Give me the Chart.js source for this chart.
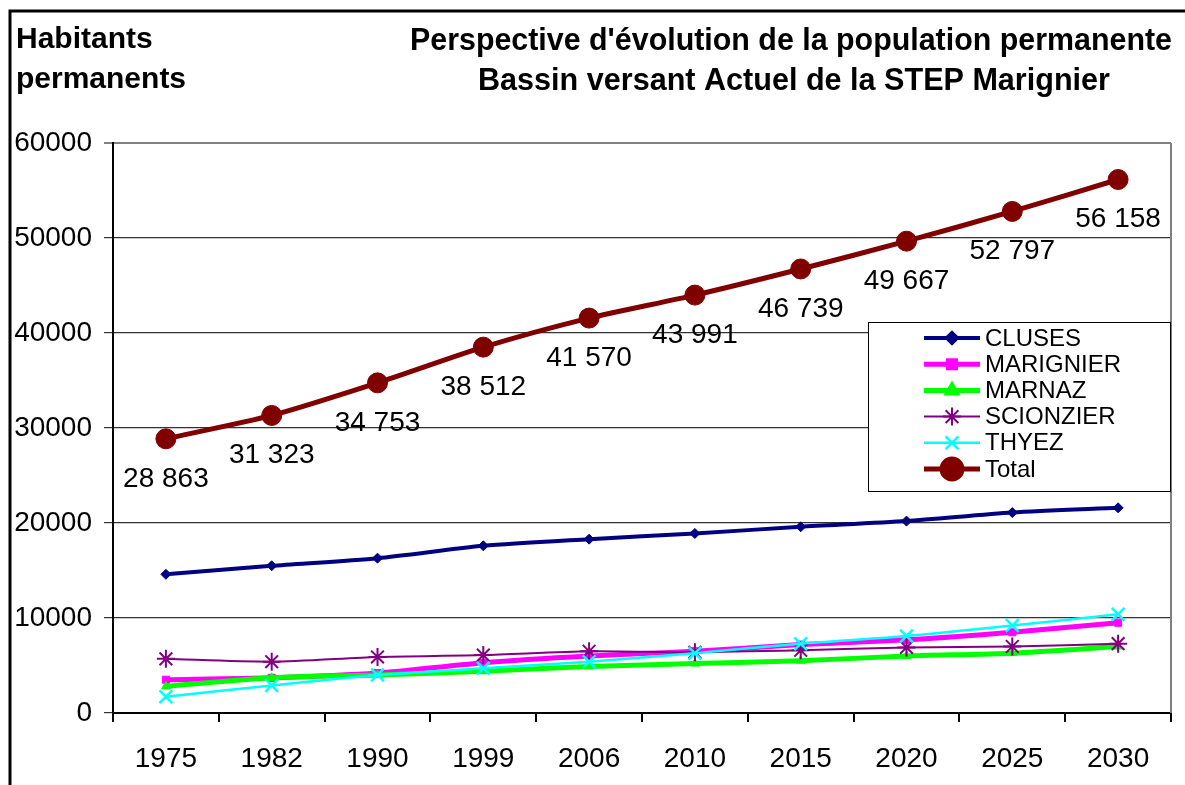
<!DOCTYPE html>
<html>
<head>
<meta charset="utf-8">
<script src="https://cdn.jsdelivr.net/npm/chart.js@4.4.0/dist/chart.umd.min.js"></script>
<style>
  html, body { margin: 0; padding: 0; background: #fff; }
  #wrap { width: 1185px; height: 785px; position: relative; }
</style>
</head>
<body>
<div id="wrap"><canvas id="popChart" width="1185" height="785"></canvas></div>
<script>
// Data
const years = ['1975', '1982', '1990', '1999', '2006', '2010', '2015', '2020', '2025', '2030'];
const cluses = [14600, 15500, 16300, 17600, 18300, 18900, 19600, 20200, 21100, 21600];
const marignier = [3500, 3700, 4200, 5300, 6000, 6500, 7200, 7700, 8500, 9500];
const marnaz = [2800, 3700, 4000, 4400, 4900, 5200, 5500, 6000, 6300, 7000];
const scionzier = [5700, 5400, 5900, 6100, 6500, 6400, 6600, 6900, 7000, 7300];
const thyez = [1700, 2900, 4000, 4700, 5400, 6300, 7300, 8100, 9200, 10400];
const total = [28863, 31323, 34753, 38512, 41570, 43991, 46739, 49667, 52797, 56158];
const yTicks = [0, 10000, 20000, 30000, 40000, 50000, 60000];

const FONT = "'Liberation Sans', Arial, sans-serif";

// thousand separator with a space, like the labels on the picture
function frNumber(v) {
    return String(v).replace(/\B(?=(\d{3})+(?!\d))/g, ' ');
}

// Frame, titles, plot border and the "Total" value labels
const decorPlugin = {
    id: 'decor',
    beforeDatasetsDraw(chart) {
        const { ctx, chartArea } = chart;
        ctx.save();
        ctx.strokeStyle = '#808080';
        ctx.lineWidth = 2;
        ctx.beginPath();
        ctx.moveTo(chartArea.right, chartArea.top);
        ctx.lineTo(chartArea.right, chartArea.bottom);
        ctx.stroke();
        ctx.restore();
    },
    afterDraw(chart) {
        const { ctx } = chart;
        ctx.save();
        // outer frame
        ctx.strokeStyle = '#000';
        ctx.lineWidth = 3;
        ctx.beginPath();
        ctx.moveTo(10, 800);
        ctx.lineTo(10, 11);
        ctx.lineTo(1200, 11);
        ctx.stroke();

        // titles
        ctx.fillStyle = '#000';
        ctx.textBaseline = 'alphabetic';
        ctx.font = 'bold 30px ' + FONT;
        ctx.textAlign = 'left';
        ctx.fillText('Habitants', 16, 48);
        ctx.fillText('permanents', 16, 88);
        ctx.font = 'bold 31px ' + FONT;
        ctx.textAlign = 'center';
        ctx.fillText("Perspective d'évolution de la population permanente", 791, 50, 762);
        ctx.fillText('Bassin versant Actuel de la STEP Marignier', 794, 90, 632);

        // value labels under the Total points
        const meta = chart.getDatasetMeta(chart.data.datasets.length - 1);
        ctx.font = '28px ' + FONT;
        ctx.textAlign = 'center';
        ctx.textBaseline = 'middle';
        meta.data.forEach((pt, i) => {
            ctx.fillText(frNumber(total[i]), pt.x, pt.y + 40);
        });
        ctx.restore();

        drawLegend(chart);
    }
};

function drawLegend(chart) {
    const { ctx } = chart;
    const box = { x: 868, y: 322, w: 302, h: 169 };
    ctx.save();
    ctx.fillStyle = '#fff';
    ctx.fillRect(box.x, box.y, box.w, box.h);
    ctx.strokeStyle = '#000';
    ctx.lineWidth = 1;
    ctx.strokeRect(box.x + 0.5, box.y + 0.5, box.w, box.h);

    const rowH = 26.2;
    chart.data.datasets.forEach((ds, i) => {
        const cy = 338 + i * rowH;
        ctx.strokeStyle = ds.borderColor;
        ctx.lineWidth = ds.borderWidth;
        ctx.beginPath();
        ctx.moveTo(924, cy);
        ctx.lineTo(980, cy);
        ctx.stroke();
        ctx.fillStyle = ds.pointBackgroundColor;
        ctx.strokeStyle = ds.pointBorderColor;
        Chart.helpers.drawPoint(ctx, {
            pointStyle: ds.pointStyle,
            radius: ds.pointRadius,
            borderWidth: ds.pointBorderWidth,
            rotation: 0
        }, 952, cy);
        ctx.fillStyle = '#000';
        ctx.font = '24px ' + FONT;
        ctx.textAlign = 'left';
        ctx.textBaseline = 'middle';
        ctx.fillText(ds.label, 985, cy + 1, 140);
    });
    ctx.restore();
}

function series(label, data, color, width, style, radius, pBorder, order) {
    return {
        label: label,
        data: data,
        borderColor: color,
        backgroundColor: color,
        borderWidth: width,
        pointStyle: style,
        pointRadius: radius,
        pointHoverRadius: radius,
        pointBackgroundColor: color,
        pointBorderColor: color,
        pointBorderWidth: pBorder,
        tension: 0.25,
        fill: false,
        order: order
    };
}

const ctx = document.getElementById('popChart').getContext('2d');
new Chart(ctx, {
    type: 'line',
    data: {
        labels: years,
        datasets: [
            series('CLUSES', cluses, '#000080', 4, 'rectRot', 5, 1, 5),
            series('MARIGNIER', marignier, '#FF00FF', 5, 'rect', 5, 1, 4),
            series('MARNAZ', marnaz, '#00FF00', 5, 'triangle', 5, 1, 3),
            series('SCIONZIER', scionzier, '#800080', 2, 'star', 9, 2, 2),
            series('THYEZ', thyez, '#00FFFF', 2.5, 'crossRot', 9, 2.5, 1),
            series('Total', total, '#800000', 5, 'circle', 10, 1, 0)
        ]
    },
    options: {
        responsive: false,
        animation: false,
        layout: { padding: { top: 143, right: 14, left: 0, bottom: 0 } },
        plugins: {
            legend: { display: false },
            title: { display: false },
            tooltip: { enabled: false }
        },
        scales: {
            x: {
                offset: true,
                grid: {
                    offset: true,
                    drawOnChartArea: false,
                    drawTicks: true,
                    tickLength: 9,
                    color: '#000',
                    lineWidth: 2
                },
                border: { color: '#000', width: 2 },
                ticks: { color: '#000', font: { family: FONT, size: 28 }, padding: 20, maxRotation: 0 },
                afterFit(scale) { scale.height = 72; }
            },
            y: {
                min: 0,
                max: 60000,
                afterBuildTicks(scale) { scale.ticks = yTicks.map(v => ({ value: v })); },
                grid: {
                    color: c => (c.tick && c.tick.value === 60000 ? '#808080' : '#333'),
                    lineWidth: c => (c.tick && c.tick.value === 60000 ? 2 : 1.2),
                    tickLength: 9
                },
                border: { color: '#000', width: 2 },
                ticks: {
                    color: '#000',
                    font: { family: FONT, size: 28 },
                    padding: 12,
                    callback: v => String(v)
                },
                afterFit(scale) { scale.width = 113; }
            }
        }
    },
    plugins: [decorPlugin]
});
</script>
</body>
</html>
